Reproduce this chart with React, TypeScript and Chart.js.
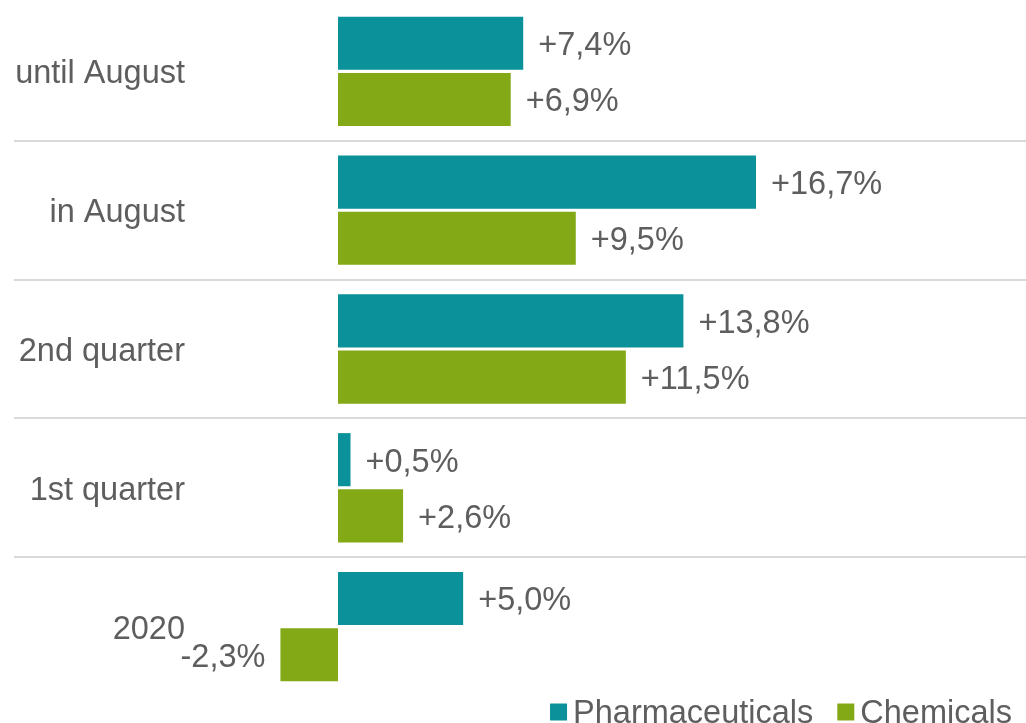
import React, { useEffect, useRef } from "react";
import { Chart, registerables } from "chart.js";

Chart.register(...registerables);

const categories = ["until August", "in August", "2nd quarter", "1st quarter", "2020"];
const pharmaceuticals = [7.4, 16.7, 13.8, 0.5, 5.0];
const chemicals = [6.9, 9.5, 11.5, 2.6, -2.3];
const seriesNames = ["Pharmaceuticals", "Chemicals"];
const seriesColors = ["#0A9199", "#84A916"];

const FONT_FAMILY = '"Liberation Sans", Arial, sans-serif';
const FONT_SIZE = 32.5;
const TEXT_COLOR = "#5E5E5E";

function formatValue(v: number): string {
  return (v >= 0 ? "+" : "") + v.toFixed(1).replace(".", ",") + "%";
}

const categoryLabelPlugin = {
  id: "categoryLabels",
  afterDraw(chart: any) {
    const { ctx } = chart;
    const yScale = chart.scales.y;
    ctx.save();
    ctx.font = `${FONT_SIZE}px ${FONT_FAMILY}`;
    ctx.fillStyle = TEXT_COLOR;
    ctx.textAlign = "right";
    ctx.textBaseline = "middle";
    (chart.data.labels as string[]).forEach((label, i) => {
      ctx.fillText(label, 185, yScale.getPixelForValue(i) + 3);
    });
    ctx.restore();
  },
};

const valueLabelPlugin = {
  id: "valueLabels",
  afterDatasetsDraw(chart: any) {
    const { ctx } = chart;
    ctx.save();
    ctx.font = `${FONT_SIZE}px ${FONT_FAMILY}`;
    ctx.fillStyle = TEXT_COLOR;
    ctx.textBaseline = "middle";
    chart.data.datasets.forEach((ds: any, di: number) => {
      const meta = chart.getDatasetMeta(di);
      meta.data.forEach((bar: any, i: number) => {
        const v = ds.data[i] as number;
        if (v >= 0) {
          ctx.textAlign = "left";
          ctx.fillText(formatValue(v), bar.x + 15, bar.y + 3);
        } else {
          ctx.textAlign = "right";
          ctx.fillText(formatValue(v), bar.x - 15, bar.y + 3);
        }
      });
    });
    ctx.restore();
  },
};

const legendPlugin = {
  id: "customLegend",
  afterDraw(chart: any) {
    const { ctx } = chart;
    ctx.save();
    ctx.font = `${FONT_SIZE}px ${FONT_FAMILY}`;
    ctx.textBaseline = "middle";
    ctx.textAlign = "left";
    const box = 17;
    const boxGap = 6;
    const itemGap = 24;
    const right = 1012;
    const cy = 712;
    const items = chart.data.datasets.map((ds: any) => ({
      text: ds.label as string,
      color: ds.backgroundColor as string,
      w: ctx.measureText(ds.label).width,
    }));
    let total = 0;
    items.forEach((it: any, i: number) => {
      total += box + boxGap + it.w + (i < items.length - 1 ? itemGap : 0);
    });
    let x = right - total;
    items.forEach((it: any) => {
      ctx.fillStyle = it.color;
      ctx.fillRect(x, cy - box / 2, box, box);
      ctx.fillStyle = TEXT_COLOR;
      ctx.fillText(it.text, x + box + boxGap, cy + 2);
      x += box + boxGap + it.w + itemGap;
    });
    ctx.restore();
  },
};

export default function App() {
  const canvasRef = useRef<HTMLCanvasElement | null>(null);

  useEffect(() => {
    if (!canvasRef.current) return;
    const pxPerUnit = (756 - 338) / 16.7;
    const chart = new Chart(canvasRef.current, {
      type: "bar",
      data: {
        labels: categories,
        datasets: [
          {
            label: seriesNames[0],
            data: pharmaceuticals,
            backgroundColor: seriesColors[0],
            categoryPercentage: 0.81,
            barPercentage: 0.945,
          },
          {
            label: seriesNames[1],
            data: chemicals,
            backgroundColor: seriesColors[1],
            categoryPercentage: 0.81,
            barPercentage: 0.945,
          },
        ],
      },
      options: {
        indexAxis: "y",
        responsive: false,
        animation: false,
        layout: { padding: { left: 14, right: 0, top: 2, bottom: 27 } },
        plugins: {
          legend: { display: false },
          tooltip: { enabled: false },
        },
        scales: {
          x: {
            display: false,
            min: -(338 - 14) / pxPerUnit,
            max: (1026 - 338) / pxPerUnit,
          },
          y: {
            display: true,
            ticks: { display: false },
            border: { display: false },
            grid: {
              offset: true,
              drawTicks: false,
              lineWidth: 2,
              color: (c: any) =>
                c.index === undefined || c.index === 0 ? "rgba(0,0,0,0)" : "#D9D9D9",
            },
            afterFit: (scale: any) => {
              scale.width = 0;
            },
          },
        },
      },
      plugins: [categoryLabelPlugin, valueLabelPlugin, legendPlugin],
    } as any);
    return () => chart.destroy();
  }, []);

  return (
    <div style={{ position: "fixed", left: 0, top: 0, width: 1026, height: 723, background: "#fff" }}>
      <canvas ref={canvasRef} width={1026} height={723} style={{ display: "block" }} />
    </div>
  );
}
